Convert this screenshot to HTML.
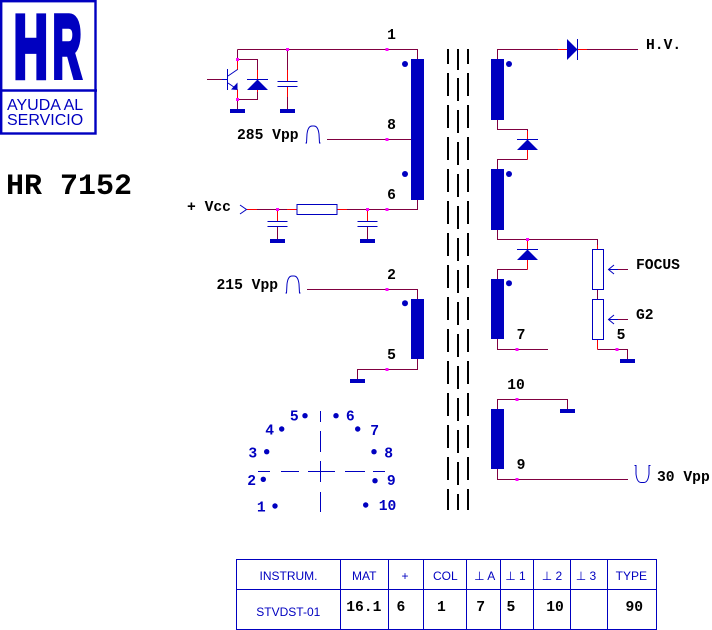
<!DOCTYPE html>
<html><head><meta charset="utf-8"><style>
html,body{margin:0;padding:0;background:#fff;}
svg{display:block}
.w{stroke:#800040;stroke-width:1;fill:none}
.r{stroke:#ff0000;stroke-width:1;fill:none}
.b{stroke:#0000c0;stroke-width:1;fill:none}
.k{stroke:#000;stroke-width:2;fill:none}
.t{font-family:"Liberation Mono","DejaVu Sans Mono",monospace;font-weight:bold;font-size:14.67px;fill:#000}
.tb{font-family:"Liberation Mono","DejaVu Sans Mono",monospace;font-weight:bold;font-size:14.67px;fill:#0000c0}
.s{font-family:"Liberation Sans","DejaVu Sans",sans-serif;font-size:12px;fill:#0000c0}
</style></head><body>
<svg width="712" height="630" viewBox="0 0 712 630" xmlns="http://www.w3.org/2000/svg">
<!-- Logo -->
<rect x="1.2" y="1.2" width="94.3" height="132.3" fill="none" stroke="#0000c0" stroke-width="2.4"/>
<line x1="0" y1="90.5" x2="97" y2="90.5" stroke="#0000c0" stroke-width="2.4"/>
<text transform="translate(13.8,77.5) scale(0.53,1)" font-family="Liberation Sans, sans-serif" font-weight="bold" font-size="89" fill="#0000c0" stroke="#0000c0" stroke-width="5.5" stroke-linejoin="miter">H</text>
<text transform="translate(52.6,77.5) scale(0.45,1)" font-family="Liberation Sans, sans-serif" font-weight="bold" font-size="89" fill="#0000c0" stroke="#0000c0" stroke-width="5.5" stroke-linejoin="miter">R</text>
<text x="7" y="110" font-family="Liberation Sans, sans-serif" font-size="16" fill="#0000c0">AYUDA AL</text>
<text x="7" y="125" font-family="Liberation Sans, sans-serif" font-size="16" fill="#0000c0">SERVICIO</text>
<text x="6" y="194" font-family="Liberation Mono, monospace" font-weight="bold" font-size="30" fill="#000">HR 7152</text>

<!-- core -->
<path class="k" d="M448,49 V64 M468,49 V64 M458,49 V70"/>
<line class="k" x1="448" y1="73" x2="448" y2="510" stroke-dasharray="23 9"/>
<line class="k" x1="468" y1="73" x2="468" y2="510" stroke-dasharray="23 9"/>
<line class="k" x1="458" y1="78" x2="458" y2="510" stroke-dasharray="23 9"/>

<!-- maroon wires -->
<path class="w" d="M237.5,49.5 H417.5 V59 M237.5,49.5 V59 M237.5,59.5 H257.5 V70 M237.5,99.5 H257.5 V92 M237.5,99 V109 M287.5,49.5 V70 M287.5,97 V109 M207,79.5 H222
M327,139.5 H417.5 M417.5,200 V209.5 H347 M257,209.5 H287 M277.5,227 V239 M367.5,227 V239
M307,289.5 H417.5 V299 M417.5,359 V369.5 H357.5 V379
M497.5,59 V49.5 H558 M587,49.5 H638 M497.5,120 V129.5 H527.5 V131 M527.5,159.5 H497.5 V169
M497.5,230 V239.5 H597.5 V245 M527.5,269.5 H497.5 V279 M497.5,339 V349.5 H548
M597.5,289.5 V299.5 M597.5,349.5 H627.5 V359 M618,269.5 H628 M618,319.5 H628
M497.5,409 V399.5 H567.5 V409 M497.5,469 V479.5 H628"/>
<!-- red wires -->
<path class="r" d="M237.5,59 V70 M237.5,89.5 V99 M257.5,70 V79 M257.5,89.5 V92 M287.5,70 V81 M287.5,87 V97
M247,209.5 H257 M287,209.5 H297 M337,209.5 H347 M277.5,209.5 V221 M367.5,209.5 V221
M558,49.5 H567 M577.5,49.5 H587 M527.5,131 V139 M527.5,149.5 V159.5 M527.5,239.5 V249 M527.5,259.5 V269.5
M597.5,245 V249.5 M597.5,339.5 V349.5"/>

<!-- blue line work -->
<path class="b" d="M227.5,69 V90 M222,79.5 H227.5 M228,76 L237.5,69.5 M228,83 L237.5,89.5
M240,205 L246.5,209.5 L240,214
M247,79.5 H268 M517,139.5 H538 M517,249.5 H538 M577.5,39 V60
M614,265 L608.5,269.5 L614,274 M608.5,269.5 H618 M614,315 L608.5,319.5 L614,324 M608.5,319.5 H618
M305.5,143 H306.5 L307,134 Q308,126 312,126 L314,126 Q318,126 319,134 L319.5,143 H320.5
M285.5,293 H286.5 L287,284 Q288,276 292,276 L294,276 Q298,276 299,284 L299.5,293 H300.5
M634.5,465.5 H636 V474 Q637,482.5 641,482.5 L644,482.5 Q648,482.5 649,474 V465.5 H650.5"/>
<path class="b" stroke-width="1.3" d="M277.5,81.5 H297.5 M277.5,86.5 H297.5 M267.5,221.5 H287.5 M267.5,226.5 H287.5 M357.5,221.5 H377.5 M357.5,226.5 H377.5"/>
<rect class="b" x="297" y="204.5" width="40" height="10" fill="#fff"/>
<rect class="b" x="592.5" y="249.5" width="11" height="40" fill="#fff"/>
<rect class="b" x="592.5" y="299.5" width="11" height="40" fill="#fff"/>

<!-- filled blue -->
<g fill="#0000c0">
<rect x="411" y="59" width="13" height="141"/>
<rect x="411" y="299" width="13" height="60"/>
<rect x="491" y="59" width="13" height="61"/>
<rect x="491" y="169" width="13" height="61"/>
<rect x="491" y="279" width="13" height="60"/>
<rect x="491" y="409" width="13" height="60"/>
<circle cx="405" cy="64" r="3"/><circle cx="405" cy="174" r="3"/><circle cx="405" cy="303.3" r="3"/>
<circle cx="509" cy="64" r="3"/><circle cx="509" cy="174" r="3"/><circle cx="509" cy="283.3" r="3"/>
<rect x="230" y="109" width="15" height="4"/><rect x="280" y="109" width="15" height="4"/>
<rect x="270" y="239" width="15" height="4"/><rect x="360" y="239" width="15" height="4"/>
<rect x="350" y="379" width="15" height="4"/><rect x="620" y="359" width="15" height="4"/>
<rect x="560" y="409" width="15" height="4"/>
<polygon points="237.5,82.5 237.5,90 231,89.5"/>
<polygon points="257.5,79.5 247,90 268,90"/>
<polygon points="567,39 567,60 577.5,49.5"/>
<polygon points="527.5,139.5 517,150 538,150"/>
<polygon points="527.5,249.5 517,260 538,260"/>
</g>

<!-- pink junctions -->
<g fill="#ff00ff">
<rect x="236" y="58" width="3" height="3"/><rect x="236" y="98" width="3" height="3"/>
<rect x="286" y="48" width="3" height="3"/><rect x="385.5" y="48" width="3" height="3"/>
<rect x="385.5" y="138" width="3" height="3"/><rect x="276" y="208" width="3" height="3"/>
<rect x="366" y="208" width="3" height="3"/><rect x="385.5" y="208" width="3" height="3"/>
<rect x="385.5" y="288" width="3" height="3"/><rect x="385.5" y="368" width="3" height="3"/>
<rect x="526" y="238" width="3" height="3"/><rect x="515.5" y="348" width="3" height="3"/>
<rect x="615.5" y="348" width="3" height="3"/><rect x="515.5" y="398" width="3" height="3"/>
<rect x="515.5" y="478" width="3" height="3"/>
</g>

<!-- labels -->
<text class="t" x="391.5" y="39" text-anchor="middle">1</text>
<text class="t" x="391.5" y="129" text-anchor="middle">8</text>
<text class="t" x="391.5" y="199" text-anchor="middle">6</text>
<text class="t" x="391.5" y="279" text-anchor="middle">2</text>
<text class="t" x="391.5" y="359" text-anchor="middle">5</text>
<text class="t" x="521" y="339" text-anchor="middle">7</text>
<text class="t" x="621" y="339" text-anchor="middle">5</text>
<text class="t" x="516" y="389" text-anchor="middle">10</text>
<text class="t" x="521" y="469" text-anchor="middle">9</text>
<text class="t" x="237" y="139">285 Vpp</text>
<text class="t" x="216.5" y="289">215 Vpp</text>
<text class="t" x="187" y="211">+ Vcc</text>
<text class="t" x="646" y="49">H.V.</text>
<text class="t" x="636" y="269">FOCUS</text>
<text class="t" x="636" y="319">G2</text>
<text class="t" x="657" y="481">30 Vpp</text>

<!-- pin diagram -->
<path class="b" d="M320.5,411 V422 M320.5,431 V452 M320.5,461 V482 M320.5,492 V512
M258,471.5 H270 M281,471.5 H299 M308,471.5 H335 M345,471.5 H365 M373,471.5 H385"/>
<g fill="#0000c0">
<circle cx="305" cy="415.7" r="2.7"/><circle cx="336" cy="415.7" r="2.7"/>
<circle cx="281.7" cy="429" r="2.7"/><circle cx="357.7" cy="429" r="2.7"/>
<circle cx="266.7" cy="451.7" r="2.7"/><circle cx="374" cy="451.7" r="2.7"/>
<circle cx="263.3" cy="479.3" r="2.7"/><circle cx="375" cy="480.7" r="2.7"/>
<circle cx="275" cy="506" r="2.7"/><circle cx="365.7" cy="505" r="2.7"/>
</g>
<text class="tb" x="294.3" y="420.7" text-anchor="middle">5</text>
<text class="tb" x="350.3" y="420.7" text-anchor="middle">6</text>
<text class="tb" x="269.7" y="434.3" text-anchor="middle">4</text>
<text class="tb" x="374.7" y="435" text-anchor="middle">7</text>
<text class="tb" x="252.8" y="457.3" text-anchor="middle">3</text>
<text class="tb" x="388.7" y="457.3" text-anchor="middle">8</text>
<text class="tb" x="251.7" y="485" text-anchor="middle">2</text>
<text class="tb" x="391.3" y="485" text-anchor="middle">9</text>
<text class="tb" x="261.3" y="511.7" text-anchor="middle">1</text>
<text class="tb" x="387.5" y="510" text-anchor="middle">10</text>

<!-- table -->
<path class="b" d="M236.5,559.5 H656.5 V629.5 H236.5 Z M236.5,589.5 H656.5
M340.5,559.5 V629.5 M388.5,559.5 V629.5 M423.5,559.5 V629.5 M466.5,559.5 V629.5
M500.5,559.5 V629.5 M533.5,559.5 V629.5 M570.5,559.5 V629.5 M607.5,559.5 V629.5"/>
<text class="s" x="288.5" y="580" text-anchor="middle">INSTRUM.</text>
<text class="s" x="364.2" y="580" text-anchor="middle">MAT</text>
<text class="s" x="405" y="580" text-anchor="middle">+</text>
<text class="s" x="445.3" y="580" text-anchor="middle">COL</text>
<text class="s" x="484.7" y="580" text-anchor="middle">⊥ A</text>
<text class="s" x="515.5" y="580" text-anchor="middle">⊥ 1</text>
<text class="s" x="552" y="580" text-anchor="middle">⊥  2</text>
<text class="s" x="586" y="580" text-anchor="middle">⊥ 3</text>
<text class="s" x="631.3" y="580" text-anchor="middle">TYPE</text>
<text class="s" x="288.3" y="616" text-anchor="middle">STVDST-01</text>
<text class="t" x="346.2" y="611">16.1</text>
<text class="t" x="396.5" y="611">6</text>
<text class="t" x="437" y="611">1</text>
<text class="t" x="476.2" y="611">7</text>
<text class="t" x="506.5" y="611">5</text>
<text class="t" x="546.2" y="611">10</text>
<text class="t" x="625.5" y="611">90</text>
</svg>
</body></html>
